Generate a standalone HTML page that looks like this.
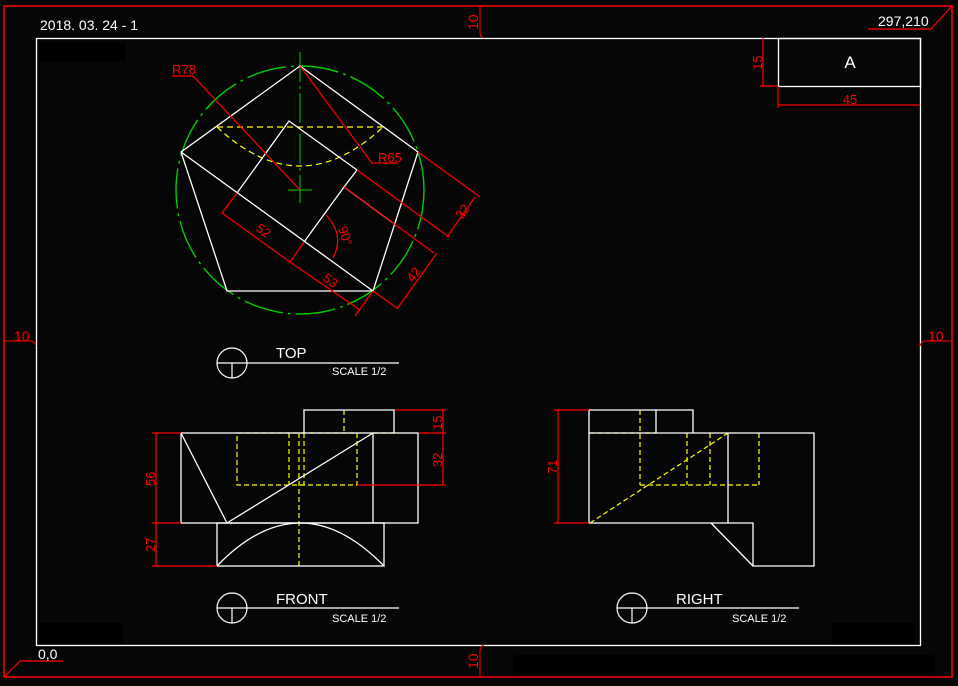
<!DOCTYPE html>
<html><head><meta charset="utf-8"><style>
html,body{margin:0;padding:0;background:#060606;}
svg{display:block;}
text{font-family:"Liberation Sans","DejaVu Sans",sans-serif;}
</style></head><body>
<svg width="958" height="686" viewBox="0 0 958 686" xmlns="http://www.w3.org/2000/svg">
<rect width="958" height="686" fill="#060606"/>
<g fill="#000">
<rect x="40" y="42" width="85" height="20"/><rect x="40" y="623" width="83" height="20"/>
<rect x="832" y="623" width="83" height="20"/><rect x="513" y="655" width="422" height="18"/>
</g>
<!-- frames -->
<rect x="4" y="6" width="948" height="671" fill="none" stroke="#f00" stroke-width="1.5"/>
<rect x="36.5" y="38.5" width="884" height="607" fill="none" stroke="#fff" stroke-width="1.3"/>
<!-- corner labels -->
<text x="40" y="30" fill="#fff" font-size="14">2018. 03. 24 - 1</text>
<text x="878" y="26" fill="#fff" font-size="14">297,210</text>
<polyline points="868,29 931,29 952,6" fill="none" stroke="#f00" stroke-width="1.2"/>
<text x="38" y="659" fill="#fff" font-size="14">0,0</text>
<polyline points="63,661 20,661 5,676" fill="none" stroke="#f00" stroke-width="1.2"/>
<!-- 10 markers -->
<g fill="#f00" font-size="14" stroke="none">
<text x="14" y="341">10</text><text x="928" y="341">10</text>
<text transform="translate(478,30) rotate(-90)">10</text>
<text transform="translate(478,669) rotate(-90)">10</text>
</g>
<g stroke="#f00" stroke-width="1" fill="none">
<path d="M4,341 H30 Q35,341 36,346"/><path d="M952,341 H926 Q921,341 920,346"/>
<path d="M480,6 V32 Q480,37 484,38"/><path d="M480,677 V651 Q480,646 484,645"/>
</g>
<!-- title box -->
<rect x="778.5" y="38.5" width="142" height="48" fill="none" stroke="#fff" stroke-width="1.3"/>
<text x="850" y="68" fill="#fff" font-size="17" text-anchor="middle">A</text>
<g stroke="#f00" stroke-width="1.2" fill="none">
<line x1="778" y1="86" x2="778" y2="108"/><line x1="778" y1="105" x2="920" y2="105"/>
<line x1="763" y1="38" x2="763" y2="86"/><line x1="760" y1="86" x2="778" y2="86"/>
</g>
<text x="850" y="104" fill="#f00" font-size="13" text-anchor="middle">45</text>
<text transform="translate(762,70) rotate(-90)" fill="#f00" font-size="13">15</text>

<!-- TOP VIEW -->
<circle cx="300" cy="190" r="124" fill="none" stroke="#0c0" stroke-width="1.4" stroke-dasharray="40,5,3,5"/>
<g stroke="#0c0" stroke-width="1"><line x1="300" y1="52" x2="300" y2="203" stroke-dasharray="30,4,3,4"/><line x1="288" y1="190" x2="312" y2="190"/></g>
<line x1="217" y1="127" x2="383" y2="127" stroke="#ff0" stroke-width="1.2" stroke-dasharray="6,4"/>
<path d="M217,127 Q300,205 383,127" fill="none" stroke="#ff0" stroke-width="1.2" stroke-dasharray="6,4"/>
<g stroke="#fff" stroke-width="1.3" fill="none">
<polygon points="300,66 418,152 373,291 227,291 181,152"/>
<line x1="181" y1="152" x2="373" y2="291"/>
<polyline points="237,193 289,121 357,170 344,187 304,242"/>
<line x1="344" y1="187" x2="393" y2="223"/>
</g>
<g stroke="#f00" stroke-width="1.2" fill="none">
<polyline points="172,76 193,76 300,190"/>
<polyline points="300,66 372,163 398,163"/>
<line x1="357" y1="170" x2="449" y2="237"/><line x1="418" y1="152" x2="480" y2="197"/>
<line x1="475" y1="197" x2="447" y2="237"/>
<line x1="344" y1="187" x2="434" y2="253"/><line x1="373" y1="291" x2="397" y2="308"/>
<line x1="437" y1="253" x2="397" y2="309"/>
<line x1="237" y1="193" x2="222" y2="213"/><line x1="222" y1="213" x2="290" y2="262"/>
<line x1="304" y1="242" x2="290" y2="262"/><line x1="290" y1="262" x2="360" y2="310"/>
<line x1="373" y1="291" x2="355" y2="316"/>
<path d="M326,215 Q345,235 333,258"/>
</g>
<g fill="#f00" font-size="13">
<text x="172" y="74">R78</text><text x="378" y="162">R65</text>
<text transform="translate(462,220) rotate(-54)">32</text>
<text transform="translate(413,283) rotate(-54)">42</text>
<text transform="translate(255,230) rotate(36)">52</text>
<text transform="translate(322,280) rotate(36)">53</text>
<text transform="translate(338,228) rotate(72)">90°</text>
</g>

<!-- labels -->
<g stroke="#fff" stroke-width="1.2" fill="none">
<circle cx="232" cy="363" r="15"/><line x1="217" y1="363" x2="399" y2="363"/><line x1="232" y1="363" x2="232" y2="378"/>
<circle cx="232" cy="608" r="15"/><line x1="217" y1="608" x2="399" y2="608"/><line x1="232" y1="608" x2="232" y2="623"/>
<circle cx="632" cy="608" r="15"/><line x1="617" y1="608" x2="799" y2="608"/><line x1="632" y1="608" x2="632" y2="623"/>
</g>
<g fill="#fff">
<text x="276" y="358" font-size="15">TOP</text><text x="332" y="375" font-size="11">SCALE 1/2</text>
<text x="276" y="604" font-size="15">FRONT</text><text x="332" y="622" font-size="11">SCALE 1/2</text>
<text x="676" y="604" font-size="15">RIGHT</text><text x="732" y="622" font-size="11">SCALE 1/2</text>
</g>

<!-- FRONT VIEW -->
<g stroke="#ff0" stroke-width="1.2" fill="none" stroke-dasharray="5,3">
<rect x="237" y="433" width="120" height="52"/>
<line x1="289" y1="433" x2="289" y2="485"/><line x1="304" y1="433" x2="304" y2="485"/>
<line x1="299" y1="433" x2="299" y2="566"/><line x1="344" y1="410" x2="344" y2="433"/>
<line x1="373" y1="433" x2="394" y2="433"/>
</g>
<g stroke="#fff" stroke-width="1.3" fill="none">
<rect x="181" y="433" width="237" height="90"/>
<polyline points="304,433 304,410 394,410 394,433"/>
<line x1="373" y1="433" x2="373" y2="523"/>
<rect x="217" y="523" width="167" height="43"/>
<path d="M217,566 Q300,480 384,566"/>
<polyline points="181,433 227,523 373,433"/>
</g>
<g stroke="#f00" stroke-width="1.2" fill="none">
<line x1="152" y1="433" x2="181" y2="433"/><line x1="152" y1="523" x2="181" y2="523"/>
<line x1="152" y1="566" x2="217" y2="566"/><line x1="156" y1="433" x2="156" y2="566"/>
<line x1="395" y1="410" x2="446" y2="410"/><line x1="419" y1="433" x2="446" y2="433"/>
<line x1="357" y1="485" x2="446" y2="485"/><line x1="443" y1="410" x2="443" y2="485"/>
</g>
<g fill="#f00" font-size="13">
<text transform="translate(155,486) rotate(-90)">56</text>
<text transform="translate(155,552) rotate(-90)">27</text>
<text transform="translate(442,430) rotate(-90)">15</text>
<text transform="translate(442,467) rotate(-90)">32</text>
</g>

<!-- RIGHT VIEW -->
<g stroke="#ff0" stroke-width="1.2" fill="none" stroke-dasharray="5,3">
<line x1="589" y1="433" x2="656" y2="433"/>
<line x1="640" y1="410" x2="640" y2="485"/><line x1="687" y1="433" x2="687" y2="485"/>
<line x1="710" y1="433" x2="710" y2="485"/><line x1="759" y1="433" x2="759" y2="485"/>
<line x1="640" y1="485" x2="759" y2="485"/>
<line x1="590" y1="523" x2="728" y2="433"/>
</g>
<g stroke="#fff" stroke-width="1.3" fill="none">
<polyline points="589,433 589,410 693,410 693,433"/><line x1="656" y1="410" x2="656" y2="433"/>
<polygon points="589,433 814,433 814,566 753,566 753,523 589,523"/>
<line x1="728" y1="433" x2="728" y2="523"/>
<line x1="711" y1="523" x2="753" y2="566"/>
</g>
<g stroke="#f00" stroke-width="1.2" fill="none">
<line x1="554" y1="410" x2="589" y2="410"/><line x1="554" y1="523" x2="589" y2="523"/>
<line x1="558" y1="410" x2="558" y2="523"/>
</g>
<text transform="translate(557,474) rotate(-90)" fill="#f00" font-size="13">71</text>
</svg>
</body></html>
